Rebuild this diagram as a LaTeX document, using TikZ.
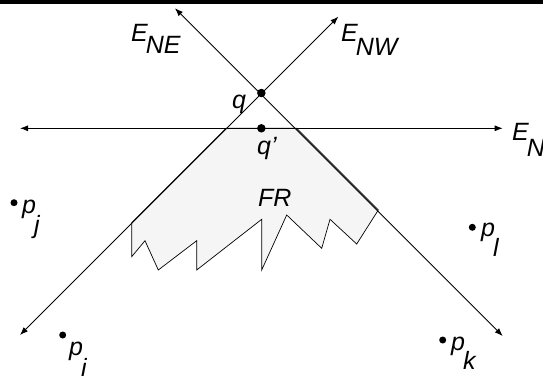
\documentclass[tikz,border=0pt]{standalone}
\usepackage{fontspec}
\setmainfont{Liberation Sans}
\usetikzlibrary{arrows.meta}
\newcommand\lbsub[3]{\textit{#1}\kern-2pt\raisebox{-#3pt}{\textit{#2}}}
\begin{document}
\begin{tikzpicture}[x=1pt,y=-1pt,
  axis/.style={line width=0.8pt, {Latex[length=8pt,width=6pt]}-{Latex[length=8pt,width=6pt]}},
  lbl/.style={anchor=base west, inner sep=0pt, font=\fontsize{25}{30}\selectfont\itshape},
  dotnode/.style={circle, fill=black, inner sep=0pt, minimum size=7pt},
  qdot/.style={circle, fill=black, inner sep=0pt, minimum size=8.5pt},
  region/.style={fill=black!4, draw=black, line width=0.7pt, line join=miter}]
\useasboundingbox (0,0) rectangle (543,381);
\fill (0,0) rectangle (543,3.5);
% line end points
\coordinate (hl) at (20,128.3);
\coordinate (hr) at (502.7,128.3);
\coordinate (nwl) at (20,335);
\coordinate (nwr) at (338.3,16.7);
\coordinate (nel) at (175,8.3);
\coordinate (ner) at (502.7,336);
% feasible region
\filldraw[region] (226,128.3) -- (296.7,128.3) -- (378.3,210) -- (356.7,244) -- (330,219.3)
  -- (321.7,248.3) -- (286.7,215) -- (261.7,270) -- (261.7,219.3) -- (196.7,270)
  -- (196.7,240.7) -- (158.3,270) -- (145,240.7) -- (131.7,256.7) -- (131.7,222.6) -- cycle;
\draw[axis] (hl) -- (hr);
\draw[axis] (nwl) -- (nwr);
\draw[axis] (nel) -- (ner);
% points
\node[qdot] (q) at (261.35,93) {};
\node[qdot] (qp) at (261.35,128.3) {};
\node[dotnode] (pj) at (14,202.7) {};
\node[dotnode] (pl) at (472.3,227.3) {};
\node[dotnode] (pi) at (62.7,335) {};
\node[dotnode] (pk) at (442.7,340) {};
% labels
\node[lbl] (lne) at (131,41.7) {\lbsub{E}{NE}{12}};
\node[lbl] (lnw) at (341,41.7) {\lbsub{E}{NW}{14}};
\node[lbl] (ln) at (512,140) {\lbsub{E}{N}{16}};
\node[lbl] (lq) at (232,108) {q};
\node[lbl] (lqp) at (257,154) {q’};
\node[lbl] (lfr) at (258,206) {FR};
\node[lbl] (lpj) at (22,213) {\lbsub{p}{j}{20}};
\node[lbl] (lpl) at (481,236) {\lbsub{p}{l}{20}};
\node[lbl] (lpi) at (69,355) {\lbsub{p}{i}{21}};
\node[lbl] (lpk) at (451,350) {\lbsub{p}{k}{19}};
\end{tikzpicture}
\end{document}
